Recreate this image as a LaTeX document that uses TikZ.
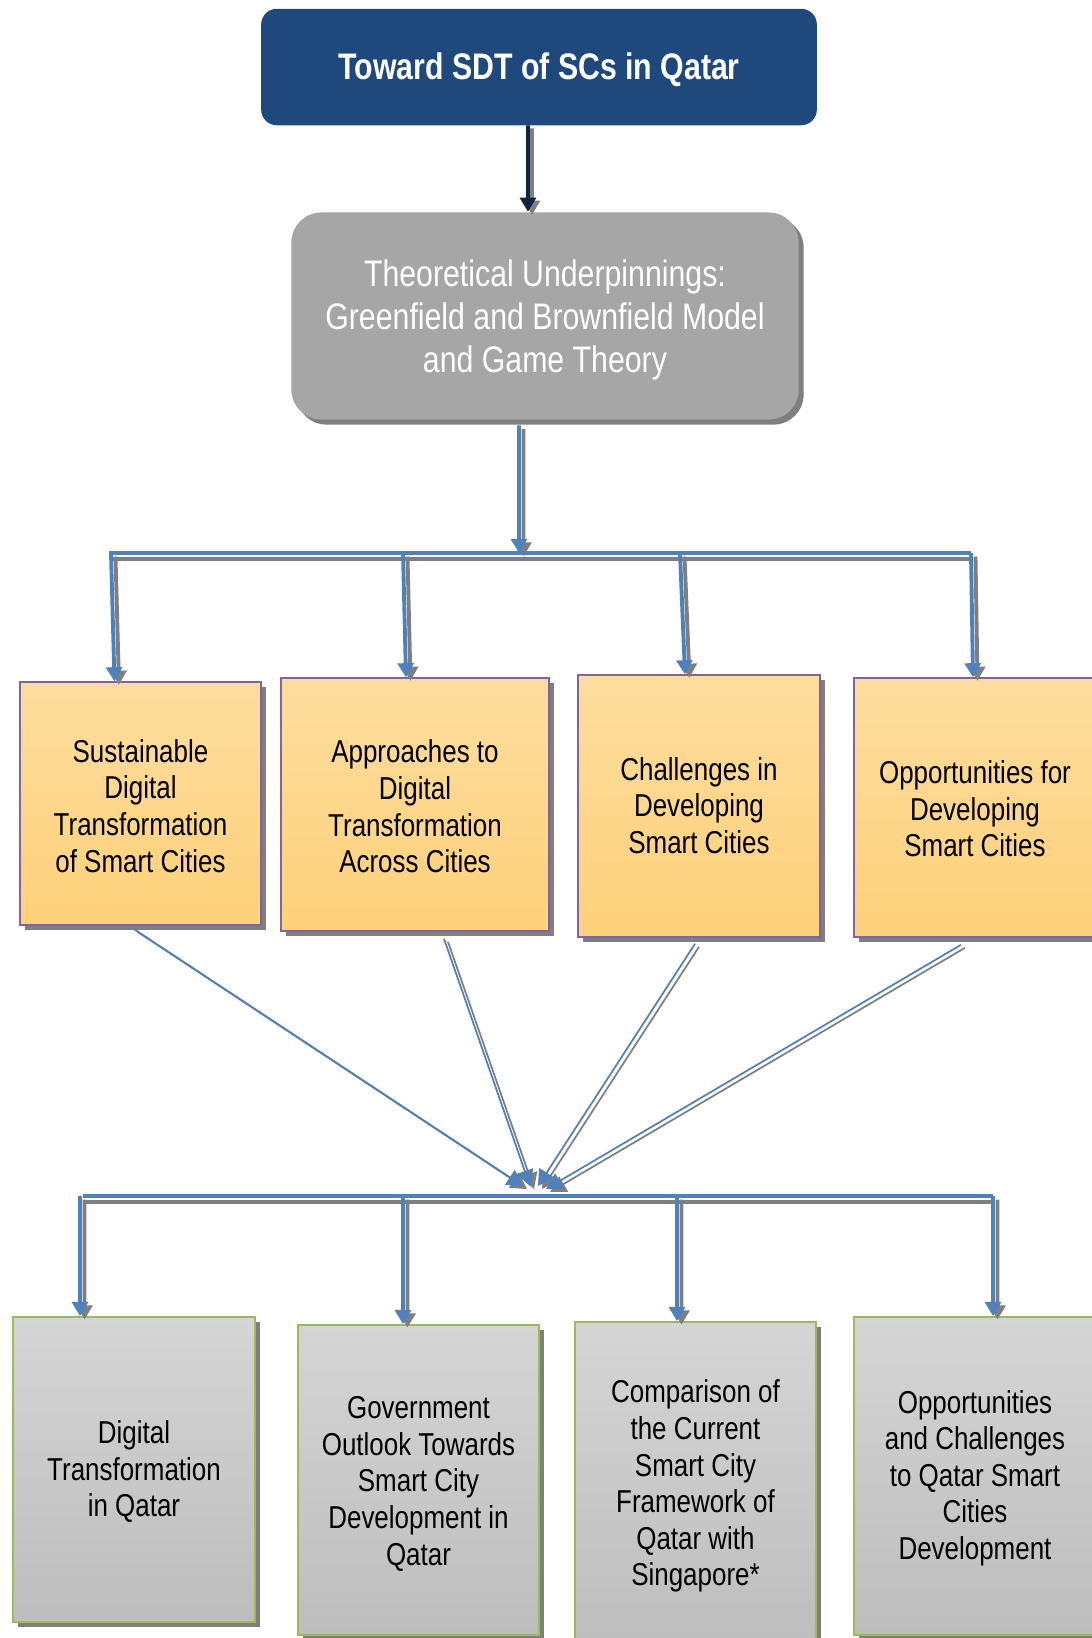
\documentclass[tikz,border=0pt]{standalone}
\usepackage{fontspec}
\setmainfont{Liberation Sans}[FakeStretch=0.82]
\usetikzlibrary{arrows.meta, positioning, shadows}

\definecolor{titleblue}{HTML}{1F497D}
\definecolor{navy}{HTML}{0F243E}
\definecolor{theorygray}{HTML}{A6A6A6}
\definecolor{shadowgray}{HTML}{7F7F7F}
\definecolor{linkblue}{HTML}{4F81BD}
\definecolor{orangetop}{HTML}{FDDD9E}
\definecolor{orangebot}{HTML}{FED17A}
\definecolor{topicpurple}{HTML}{8064A2}
\definecolor{graytop}{HTML}{D5D5D5}
\definecolor{graybot}{HTML}{BDBDBD}
\definecolor{qatargreen}{HTML}{9BBB59}

% box text, set a little low as in the original
\newcommand{\boxtext}[2][1pt]{\raisebox{-#1}[\height][\depth]{\begin{tabular}{@{}c@{}}#2\end{tabular}}}

\tikzset{
  boxshadow/.style={drop shadow={shadow xshift=0.05cm, shadow yshift=-0.05cm, fill=shadowgray, opacity=1}},
  titlebox/.style={fill=titleblue, draw=titleblue, rounded corners=0.15cm, text=white,
    minimum width=5.54cm, minimum height=1.15cm, font=\bfseries\fontsize{10.5}{12.3}\selectfont},
  theorybox/.style={fill=theorygray, rounded corners=0.3cm, text=white, boxshadow,
    minimum width=5.07cm, minimum height=2.07cm, font=\fontsize{10.5}{12.3}\selectfont},
  topicbox/.style={draw=topicpurple, line width=0.4pt, top color=orangetop, bottom color=orangebot,
    boxshadow, font=\fontsize{9}{10.4}\selectfont},
  qatarbox/.style={draw=qatargreen, line width=0.5pt, top color=graytop, bottom color=graybot,
    boxshadow, font=\fontsize{9}{10.4}\selectfont},
  navyarrow/.style={draw=navy, line width=1pt, -{Triangle[length=4pt,width=4.5pt]},
    preaction={draw=shadowgray, line width=1pt, -{Triangle[length=4pt,width=4.5pt]}, transform canvas={shift={(0.04cm,-0.03cm)}}}},
  dropline/.style={draw=linkblue, line width=1.1pt, -{Triangle[length=4pt,width=4.5pt]},
    preaction={draw=shadowgray, line width=1.1pt, -{Triangle[length=4pt,width=4.5pt]}, transform canvas={shift={(0.045cm,-0.035cm)}}}},
  busline/.style={draw=linkblue, line width=1.1pt,
    preaction={draw=shadowgray, line width=1.3pt, transform canvas={shift={(0.01cm,-0.06cm)}}}},
  feedline/.style={draw=linkblue, line width=0.5pt, -{Triangle[length=4.5pt,width=5pt]},
    preaction={draw=shadowgray, line width=0.5pt, -{Triangle[length=4.5pt,width=5pt]}, transform canvas={shift={(0.04cm,-0.03cm)}}}},
}

\begin{document}
\begin{tikzpicture}[x=0.01cm, y=-0.01cm]
\useasboundingbox (0,0) rectangle (1092,1638);
\clip (0,0) rectangle (1092,1638);

% top of the tree
\node[titlebox] (title) at (539,67) {\boxtext[1.2pt]{Toward SDT of SCs in Qatar}};
\node[theorybox] (theory) at (545,316) {\boxtext[1.4pt]{Theoretical Underpinnings:\\ Greenfield and Brownfield Model\\ and Game Theory}};

% literature topics
\node[topicbox, minimum width=2.41cm, minimum height=2.43cm] (sdt) at (140.5,803.5) {\boxtext[1.8pt]{Sustainable\\ Digital\\ Transformation\\ of Smart Cities}};
\node[topicbox, minimum width=2.68cm, minimum height=2.53cm] (approach) at (415,804.5) {\boxtext[1.7pt]{Approaches to\\ Digital\\ Transformation\\ Across Cities}};
\node[topicbox, minimum width=2.42cm, minimum height=2.62cm] (challenge) at (699,806) {\boxtext[1pt]{Challenges in\\ Developing\\ Smart Cities}};
\node[topicbox, minimum width=2.42cm, minimum height=2.59cm] (opport) at (975,807.5) {\boxtext[1.5pt]{Opportunities for\\ Developing\\ Smart Cities}};

% qatar topics
\node[qatarbox, minimum width=2.42cm, minimum height=3.05cm] (qdt) at (134,1469.5) {\boxtext{Digital\\ Transformation\\ in Qatar}};
\node[qatarbox, minimum width=2.41cm, minimum height=3.10cm] (outlook) at (418.5,1480) {\boxtext[1.3pt]{Government\\ Outlook Towards\\ Smart City\\ Development in\\ Qatar}};
\node[qatarbox, minimum width=2.41cm, minimum height=3.28cm] (compare) at (695.5,1486) {\boxtext[0.3pt]{Comparison of\\ the Current\\ Smart City\\ Framework of\\ Qatar with\\ Singapore*}};
\node[qatarbox, minimum width=2.42cm, minimum height=3.18cm] (qopport) at (975,1476) {\boxtext[0.8pt]{Opportunities\\ and Challenges\\ to Qatar Smart\\ Cities\\ Development}};

% bus points
\coordinate (hub) at (519,553);
\coordinate (busW) at (109,553);
\coordinate (busE) at (971,553);
\coordinate (d1) at (111,553);
\coordinate (d2) at (403,553);
\coordinate (d3) at (680,553);
\coordinate (d4) at (971,553);
\coordinate (m1) at (523,1186);
\coordinate (m2) at (530,1186);
\coordinate (m3) at (538,1186);
\coordinate (m4) at (546,1189);
\coordinate (lowW) at (83,1196);
\coordinate (lowE) at (993,1196);
\coordinate (b1) at (80,1196);
\coordinate (b2) at (403,1196);
\coordinate (b3) at (677,1196);
\coordinate (b4) at (993,1196);

\draw[navyarrow] ([xshift=-0.11cm]title.south) -- ([xshift=-0.17cm]theory.north);
\draw[dropline] ([xshift=-0.26cm, yshift=-0.05cm]theory.south) -- (hub);

\draw[busline] (busW) -- (busE);
\draw[dropline] (d1) -- ([xshift=-0.26cm]sdt.north);
\draw[dropline] (d2) -- ([xshift=-0.09cm]approach.north);
\draw[dropline] (d3) -- ([xshift=-0.14cm]challenge.north);
\draw[dropline] (d4) -- ([xshift=-0.02cm]opport.north);

\draw[feedline] ([xshift=-0.07cm, yshift=-0.03cm]sdt.south) -- (m1);
\draw[feedline] ([xshift=0.29cm, yshift=-0.07cm]approach.south) -- (m2);
\draw[feedline] ([xshift=-0.04cm, yshift=-0.06cm]challenge.south) -- (m3);
\draw[feedline] ([xshift=-0.14cm, yshift=-0.07cm]opport.south) -- (m4);

\draw[busline] (lowW) -- (lowE);
\draw[dropline] (b1) -- ([xshift=-0.54cm]qdt.north);
\draw[dropline] (b2) -- ([xshift=-0.155cm]outlook.north);
\draw[dropline] (b3) -- ([xshift=-0.185cm]compare.north);
\draw[dropline] (b4) -- ([xshift=0.18cm]qopport.north);
\end{tikzpicture}
\end{document}
